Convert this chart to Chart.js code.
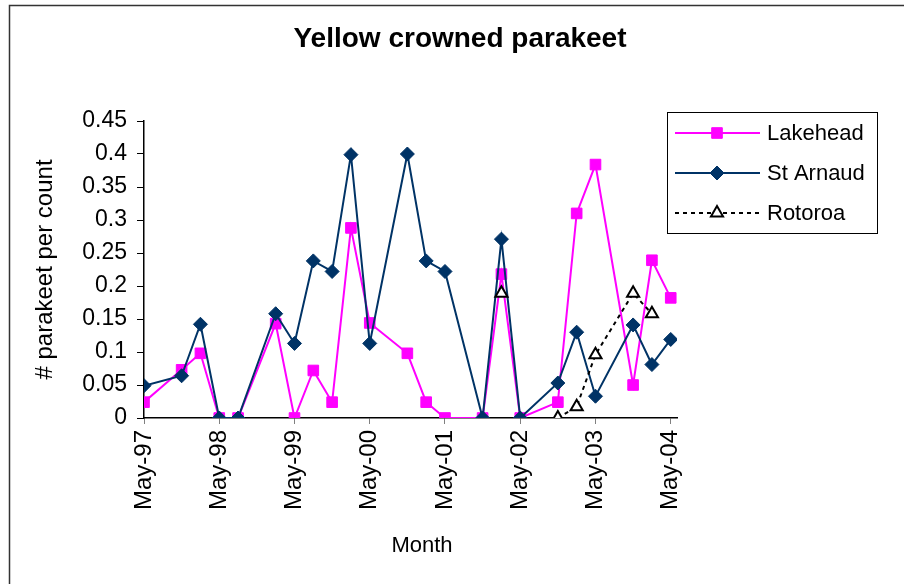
<!DOCTYPE html>
<html>
<head>
<meta charset="utf-8">
<script src="https://cdn.jsdelivr.net/npm/chart.js@4.4.0/dist/chart.umd.min.js"></script>
<style>
  html, body { margin: 0; padding: 0; background: #fff; }
</style>
</head>
<body>
<canvas id="chart" width="904" height="584"></canvas>
<script>
// yellow crowned parakeet counts, x = months since May-97
const FONT = "Arial, 'Liberation Sans', sans-serif";

const months = [0, 6, 9, 12, 15, 21, 24, 27, 30, 33, 36, 42, 45, 48, 54, 57, 60, 66, 69, 72, 78, 81, 84];
const lakehead = [0.024, 0.073, 0.098, 0, 0, 0.143, 0, 0.072, 0.024, 0.288, 0.144, 0.098, 0.024, 0, 0, 0.218, 0, 0.024, 0.310, 0.384, 0.050, 0.239, 0.182];
const stArnaud = [0.049, 0.064, 0.142, 0, 0, 0.158, 0.113, 0.238, 0.222, 0.399, 0.113, 0.400, 0.238, 0.222, 0, 0.271, 0, 0.053, 0.130, 0.033, 0.141, 0.081, 0.119];
const rotoroaMonths = [57, 60, 66, 69, 72, 78, 81];
const rotoroa = [0.189, null, 0, 0.017, 0.096, 0.189, 0.158];

const tickMonths = [0, 12, 24, 36, 48, 60, 72, 84];
const tickLabels = ['May-97', 'May-98', 'May-99', 'May-00', 'May-01', 'May-02', 'May-03', 'May-04'];
const yTicks = [0, 0.05, 0.1, 0.15, 0.2, 0.25, 0.3, 0.35, 0.4, 0.45];

function toPoints(xs, ys) {
    return xs.map((x, i) => ({ x: x, y: ys[i] }));
}

// frame, title, x title and the boxed legend
const decorations = {
    id: 'decorations',
    beforeDraw(chart) {
        const ctx = chart.ctx;
        ctx.save();
        ctx.fillStyle = '#fff';
        ctx.fillRect(0, 0, chart.width, chart.height);
        ctx.strokeStyle = '#333';
        ctx.lineWidth = 1.5;
        ctx.beginPath();
        ctx.moveTo(9.5, chart.height + 2);
        ctx.lineTo(9.5, 5.5);
        ctx.lineTo(chart.width + 2, 5.5);
        ctx.stroke();
        ctx.restore();
    },
    afterDraw(chart) {
        const ctx = chart.ctx;
        ctx.save();
        ctx.fillStyle = '#000';
        ctx.textBaseline = 'middle';
        ctx.textAlign = 'center';
        ctx.font = 'bold 28px ' + FONT;
        ctx.fillText('Yellow crowned parakeet', 460, 39);
        ctx.font = '22px ' + FONT;
        ctx.fillText('Month', 422, 546);

        // legend
        ctx.strokeStyle = '#000';
        ctx.lineWidth = 1;
        ctx.strokeRect(667.5, 112.5, 210, 121);
        const rows = [133, 173, 213];
        chart.data.datasets.forEach((ds, i) => {
            const y = rows[i];
            ctx.save();
            ctx.strokeStyle = ds.borderColor;
            ctx.lineWidth = ds.borderWidth;
            ctx.setLineDash(ds.borderDash || []);
            ctx.beginPath();
            ctx.moveTo(675, y);
            ctx.lineTo(760, y);
            ctx.stroke();
            ctx.setLineDash([]);
            ctx.fillStyle = ds.pointBackgroundColor;
            ctx.strokeStyle = ds.pointBorderColor;
            ctx.lineWidth = ds.pointBorderWidth;
            Chart.helpers.drawPoint(ctx, {
                pointStyle: ds.pointStyle,
                radius: ds.pointRadius,
                rotation: 0,
                borderWidth: ds.pointBorderWidth
            }, 717, y);
            ctx.restore();
            ctx.fillStyle = '#000';
            ctx.textAlign = 'left';
            ctx.font = '22px ' + FONT;
            ctx.fillText(ds.label, 767, y + 1);
        });
        ctx.restore();
    }
};

new Chart(document.getElementById('chart'), {
    type: 'line',
    data: {
        datasets: [
            {
                label: 'Lakehead',
                data: toPoints(months, lakehead),
                borderColor: '#ff00ff',
                borderWidth: 2,
                pointStyle: 'rect',
                pointRadius: 7.5,
                pointBackgroundColor: '#ff00ff',
                pointBorderColor: '#ff00ff',
                pointBorderWidth: 1,
                order: 2
            },
            {
                label: 'St Arnaud',
                data: toPoints(months, stArnaud),
                borderColor: '#003366',
                borderWidth: 2,
                pointStyle: 'rectRot',
                pointRadius: 7,
                pointBackgroundColor: '#003366',
                pointBorderColor: '#003366',
                pointBorderWidth: 1,
                order: 1
            },
            {
                label: 'Rotoroa',
                data: toPoints(rotoroaMonths, rotoroa),
                borderColor: '#000',
                borderWidth: 2,
                borderDash: [4, 4],
                spanGaps: false,
                pointStyle: 'triangle',
                pointRadius: 7,
                pointBackgroundColor: '#fff',
                pointBorderColor: '#000',
                pointBorderWidth: 2,
                order: 0
            }
        ]
    },
    options: {
        responsive: false,
        animation: false,
        events: [],
        elements: { line: { tension: 0 } },
        layout: { padding: { left: 0, top: 121, right: 227, bottom: 0 } },
        plugins: {
            legend: { display: false },
            title: { display: false },
            tooltip: { enabled: false }
        },
        scales: {
            x: {
                type: 'linear',
                min: 0,
                max: 85,
                afterBuildTicks: s => { s.ticks = tickMonths.map(v => ({ value: v })); },
                afterFit: s => { s.height = 584 - 418; },
                ticks: {
                    autoSkip: false,
                    minRotation: 90,
                    maxRotation: 90,
                    padding: 6,
                    color: '#000',
                    font: { family: FONT, size: 24 },
                    callback: (v, i) => tickLabels[i]
                },
                grid: { drawOnChartArea: false, tickLength: 6, color: '#808080' },
                border: { color: '#000', width: 1.5 }
            },
            y: {
                min: 0,
                max: 0.45,
                afterBuildTicks: s => { s.ticks = yTicks.map(v => ({ value: v })); },
                afterFit: s => { s.width = 144; },
                ticks: {
                    color: '#000',
                    padding: 10,
                    font: { family: FONT, size: 23 },
                    callback: v => String(Math.round(v * 100) / 100)
                },
                grid: { drawOnChartArea: false, tickLength: 7, color: '#000' },
                border: { color: '#000', width: 1.5 },
                title: {
                    display: true,
                    text: '# parakeet per count',
                    color: '#000',
                    font: { family: FONT, size: 24 },
                    padding: { top: 31, bottom: 0 }
                }
            }
        }
    },
    plugins: [decorations]
});
</script>
</body>
</html>
